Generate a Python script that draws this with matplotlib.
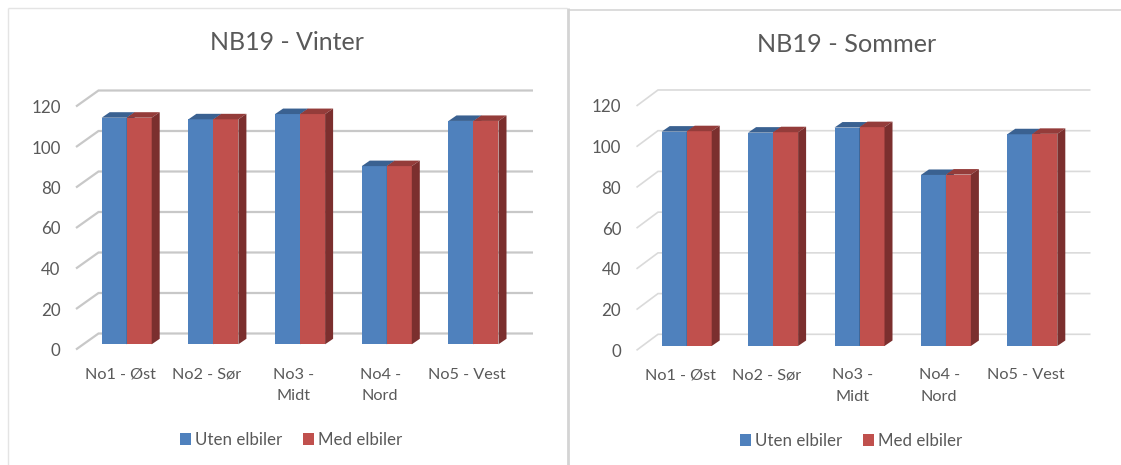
import matplotlib
matplotlib.use('Agg')
import matplotlib.pyplot as plt
from matplotlib.patches import Polygon
from matplotlib.lines import Line2D

W, H = 1121, 465
plt.rcParams['font.family'] = ['Lato', 'DejaVu Sans']

categories = ['No1 - Øst', 'No2 - Sør', 'No3 -\nMidt', 'No4 -\nNord', 'No5 - Vest']
series_names = ['Uten elbiler', 'Med elbiler']
y_ticks = [0, 20, 40, 60, 80, 100, 120]

vinter_uten = [111.9, 111.1, 113.7, 88.0, 110.3]
vinter_med = [111.9, 111.1, 113.7, 88.0, 110.3]
sommer_uten = [105.3, 104.8, 107.3, 84.0, 104.0]
sommer_med = [105.5, 105.0, 107.5, 84.2, 104.2]

TEXT = '#595959'
BLUE = ('#4f81bd', '#3a6191', '#2f4f77')
RED = ('#c0504d', '#943c3a', '#7b2f2e')

fig = plt.figure(figsize=(W / 100, H / 100), dpi=100, facecolor='white')


def px_rect(x0, x1, y_bottom, y_top):
    return [x0 / W, 1 - y_bottom / H, (x1 - x0) / W, (y_bottom - y_top) / H]


def draw_chart(title, title_xy, title_size, uten, med, front, back_dx, back_dy, right, label0, step, scale,
               bar_left, bar_w, base, legend_xy, grid_color, grid_lw):
    x0, y0 = front
    ax = fig.add_axes(px_rect(x0, right, y0, y0 - 125 * scale))
    ax.patch.set_alpha(0)
    ax.set_xlim((x0 - label0) / step, (right - label0) / step)
    ax.set_ylim(0, 125)
    for s in ax.spines.values():
        s.set_visible(False)

    # pixel sizes into data units
    dx = back_dx / step
    dy = back_dy / scale
    for v in y_ticks:
        ax.plot([ax.get_xlim()[0], ax.get_xlim()[0] + dx, ax.get_xlim()[1] + dx],
                [v, v + dy, v + dy], color=grid_color, lw=grid_lw, clip_on=False, zorder=1,
                solid_capstyle='butt', solid_joinstyle='miter')

    ax.set_yticks(y_ticks)
    ax.set_xticks(range(len(categories)))
    ax.set_xticklabels(categories, linespacing=1.72)
    ax.tick_params(axis='y', length=0, pad=11, labelsize=12.2, labelcolor=TEXT)
    ax.tick_params(axis='x', length=0, pad=13, labelsize=11.7, labelcolor=TEXT)

    w = bar_w / step
    shift = (bar_left - label0) / step
    base_v = base / scale
    ddx = 8 / step
    ddy = 5.5 / scale
    handles = []
    for k, (vals, cols, name) in enumerate(zip([uten, med], [BLUE, RED], series_names)):
        xs = [i + shift + k * w for i in range(len(vals))]
        bars = ax.bar(xs, vals, width=w, bottom=base_v, align='edge', color=cols[0], zorder=3 + k,
                      clip_on=False, label=name)
        handles.append(bars)
        for x, v in zip(xs, vals):
            top = v + base_v
            ax.add_patch(Polygon([(x, top), (x + ddx, top + ddy), (x + w + ddx, top + ddy), (x + w, top)],
                                 closed=True, fc=cols[1], ec='none', clip_on=False, zorder=3 + k))
            ax.add_patch(Polygon([(x + w, base_v), (x + w + ddx, base_v + ddy), (x + w + ddx, top + ddy), (x + w, top)],
                                 closed=True, fc=cols[2], ec='none', clip_on=False, zorder=3 + k))

    fig.text(title_xy[0] / W, 1 - title_xy[1] / H, title, ha='center', va='center', fontsize=title_size, color=TEXT)
    fig.legend(handles=handles, loc='center', bbox_to_anchor=(legend_xy[0] / W, 1 - legend_xy[1] / H),
               ncol=2, frameon=False, fontsize=12.2, labelcolor=TEXT, handlelength=0.66, handleheight=0.66,
               handletextpad=0.2, columnspacing=1.25)


def frame_line(xs, ys, color, lw):
    fig.add_artist(Line2D([x / W for x in xs], [1 - y / H for y in ys], color=color, lw=lw,
                          solid_capstyle='butt', zorder=0))


draw_chart('NB19 - Vinter', (287, 42), 18, vinter_uten, vinter_med, (76, 349.5), 22.5, 16, 510.5,
           120, 86.7, 2.025, 101.7, 25, 5.2, (291, 440), '#c8c8c8', 1.6)
draw_chart('NB19 - Sommer', (847, 44), 18.2, sommer_uten, sommer_med, (636.5, 350.3), 21.5, 16, 1069,
           680, 86.4, 2.036, 661.7, 25, 4.3, (851, 441), '#dadada', 1.2)

# panel borders
frame_line([7.5, 7.5], [8, H], '#e4e4e4', 1.0)
frame_line([7.5, 567], [8.5, 8.5], '#e4e4e4', 1.0)
frame_line([568, W], [10, 10], '#dcdcdc', 1.4)
frame_line([567.5, 567.5], [8, H], '#d4d4d4', 2.0)

fig.savefig('out.png', dpi=100)
